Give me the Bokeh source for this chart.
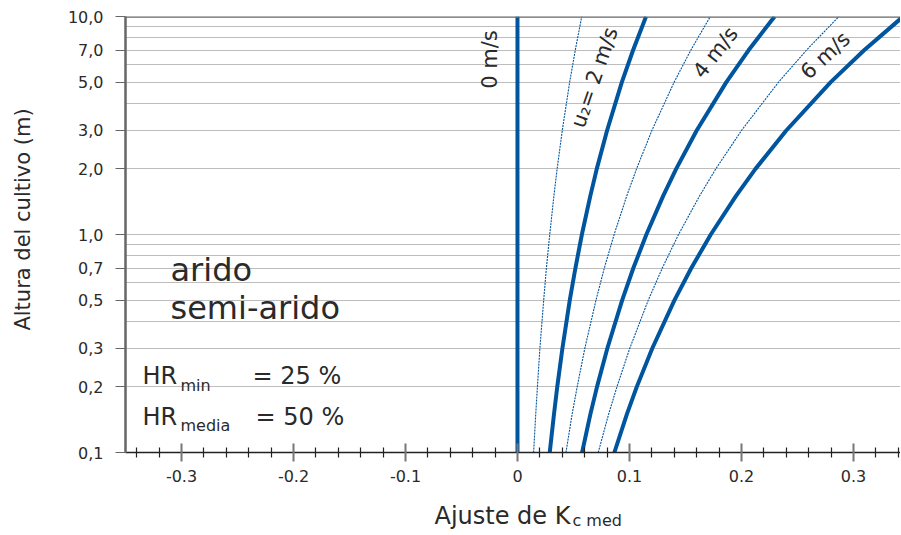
from bokeh.plotting import figure
from bokeh.models import Range1d, FixedTicker, Label, Span
from bokeh.embed import file_html
from bokeh.resources import INLINE

# ---- data ----
heights = [0.1, 0.15, 0.2, 0.3, 0.5, 0.7, 1.0, 1.5, 2.0, 3.0, 5.0, 7.0, 10.0]
kc_u0 = [0.0] * 13
kc_u1 = [0.0144, 0.0163, 0.0178, 0.0200, 0.0234, 0.0258, 0.0288, 0.0325, 0.0354, 0.0400, 0.0466, 0.0516, 0.0574]
kc_u2 = [0.0288, 0.0326, 0.0355, 0.0401, 0.0467, 0.0517, 0.0575, 0.0650, 0.0708, 0.0800, 0.0932, 0.1032, 0.1148]
kc_u3 = [0.0433, 0.0488, 0.0533, 0.0601, 0.0701, 0.0775, 0.0863, 0.0975, 0.1063, 0.1200, 0.1399, 0.1547, 0.1722]
kc_u4 = [0.0577, 0.0651, 0.0710, 0.0802, 0.0935, 0.1034, 0.1151, 0.1300, 0.1417, 0.1600, 0.1865, 0.2063, 0.2296]
kc_u5 = [0.0721, 0.0814, 0.0888, 0.1002, 0.1168, 0.1292, 0.1438, 0.1625, 0.1771, 0.2000, 0.2331, 0.2579, 0.2870]
kc_u6 = [0.0865, 0.0977, 0.1065, 0.1203, 0.1402, 0.1551, 0.1726, 0.1950, 0.2125, 0.2400, 0.2797, 0.3095, 0.3444]
thick_series = [kc_u0, kc_u2, kc_u4, kc_u6]
thin_series = [kc_u1, kc_u3, kc_u5]

x_ticks = [-0.3, -0.2, -0.1, 0, 0.1, 0.2, 0.3]
x_tick_labels = ["-0.3", "-0.2", "-0.1", "0", "0.1", "0.2", "0.3"]
x_minor = [-0.34, -0.32, -0.28, -0.26, -0.24, -0.22, -0.18, -0.16, -0.14, -0.12,
           -0.08, -0.06, -0.04, -0.02, 0.02, 0.04, 0.06, 0.08, 0.12, 0.14, 0.16,
           0.18, 0.22, 0.24, 0.26, 0.28, 0.32, 0.34]
y_ticks = [0.1, 0.2, 0.3, 0.5, 0.7, 1.0, 2.0, 3.0, 5.0, 7.0, 10.0]
y_tick_labels = ["0,1", "0,2", "0,3", "0,5", "0,7", "1,0", "2,0", "3,0", "5,0", "7,0", "10,0"]
grid_heights = [0.2, 0.3, 0.4, 0.5, 0.6, 0.7, 0.8, 0.9, 1.0, 2.0, 3.0, 4.0, 5.0, 6.0, 7.0, 8.0, 9.0]

# ---- styling ----
FONT = "DejaVu Sans"
BLUE = "#00559f"
TXT = "#2a2a2a"

p = figure(width=900, height=534, x_range=Range1d(-0.35, 0.342), y_range=Range1d(0.1, 10),
           y_axis_type="log", output_backend="svg", toolbar_location=None, title=None,
           min_border_left=125, min_border_right=0, min_border_top=16, min_border_bottom=82)
p.outline_line_color = None
p.background_fill_color = "white"
p.border_fill_color = "white"

p.xgrid.visible = False
p.ygrid.ticker = FixedTicker(ticks=grid_heights)
p.ygrid.grid_line_color = "#7a7a7a"
p.ygrid.grid_line_dash = "1 1"
p.ygrid.grid_line_width = 1

xa = p.xaxis[0]
xa.ticker = FixedTicker(ticks=x_ticks, minor_ticks=x_minor)
xa.major_label_overrides = dict(zip(x_ticks, x_tick_labels))
xa.axis_line_color = "#222222"
xa.axis_line_width = 1.6
xa.major_tick_in = 9
xa.major_tick_out = 9
xa.major_tick_line_color = "#777777"
xa.major_tick_line_width = 2
xa.minor_tick_in = 5
xa.minor_tick_out = 5
xa.minor_tick_line_color = "#222222"
xa.minor_tick_line_width = 1.2
xa.major_label_standoff = 8
xa.major_label_text_font = FONT
xa.major_label_text_font_size = "16px"
xa.major_label_text_color = TXT

ya = p.yaxis[0]
ya.ticker = FixedTicker(ticks=y_ticks, minor_ticks=[])
ya.major_label_overrides = dict(zip(y_ticks, y_tick_labels))
ya.axis_line_color = "#666666"
ya.axis_line_width = 2.5
ya.major_tick_in = 0
ya.major_tick_out = 10
ya.major_tick_line_color = "#666666"
ya.minor_tick_in = 0
ya.minor_tick_out = 0
ya.major_label_standoff = 12
ya.major_label_text_font = FONT
ya.major_label_text_font_size = "16px"
ya.major_label_text_color = TXT

p.add_layout(Span(location=10, dimension="width", line_color="#666666", line_width=2.5))

for s in thin_series:
    p.line(s, heights, line_color=BLUE, line_width=1.1, line_dash="2 1")
for s in thick_series:
    p.line(s, heights, line_color=BLUE, line_width=4)

# ---- annotations (positions from pixel layout) ----
def X(px):
    return (px - 517) / 1120

def Y(py):
    return 10 ** (-1 + 2 * (452 - py) / 436)

def lab(text, px, py, size, align="left", baseline="alphabetic", angle=0, place="center"):
    p.add_layout(Label(x=X(px), y=Y(py), text=text, text_font=FONT, text_font_size=size,
                       text_color=TXT, text_align=align, text_baseline=baseline,
                       angle=angle, angle_units="deg"), place)

lab("arido", 170, 269, "32px")
lab("semi-arido", 170, 307, "32px")
lab("HR", 142, 375, "24px")
lab("min", 180, 385, "16px")
lab("= 25 %", 252, 375, "24px")
lab("HR", 142, 416, "24px")
lab("media", 180, 425, "16px")
lab("= 50 %", 255, 416, "24px")

lab("0 m/s", 490, 59, "21px", align="center", baseline="middle", angle=90)
lab("u\u2082= 2 m/s", 594, 77, "21px", align="center", baseline="middle", angle=71)
lab("4 m/s", 715, 52, "21px", align="center", baseline="middle", angle=52)
lab("6 m/s", 825, 55, "21px", align="center", baseline="middle", angle=43)

lab("Altura del cultivo (m)", 22, 219, "21px", align="center", baseline="middle", angle=90, place="left")
lab("Ajuste de K", 434, 515, "24px", place="below")
lab("c med", 572, 520, "16px", place="below")

open("out.html", "w").write(file_html(p, INLINE))
